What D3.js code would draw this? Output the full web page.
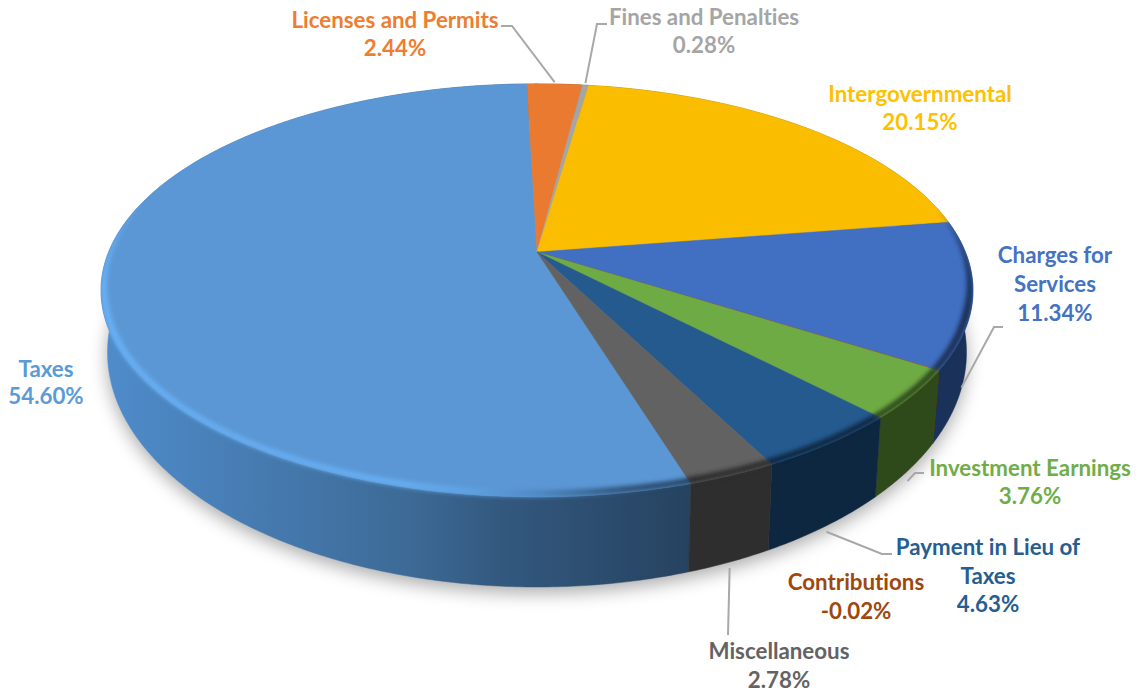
<!DOCTYPE html>
<html><head><meta charset="utf-8">
<script src="https://cdn.jsdelivr.net/npm/d3@7/dist/d3.min.js"></script>
<style>html,body{margin:0;padding:0;background:#fff}svg{display:block}text{font-variant-ligatures:none}</style></head>
<body><div id="c"></div>
<script>
const categories=["Taxes","Licenses and Permits","Fines and Penalties","Intergovernmental","Charges for Services","Contributions","Investment Earnings","Payment in Lieu of Taxes","Miscellaneous"];
const values=[54.60,2.44,0.28,20.15,11.34,-0.02,3.76,4.63,2.78];
const labelText=["54.60%","2.44%","0.28%","20.15%","11.34%","-0.02%","3.76%","4.63%","2.78%"];
const topColors=["#5b97d5","#ea7a30","#a5a5a5","#fbbd00","#4170c2","#9e480e","#6fab45","#255a8f","#626262"];
const sideColors=["#3f6c99","#8a4a1d","#666666","#97750a","#1a3159","#5e2b08","#2f4a1a","#0e2740","#2e2e2e"];
const textColors=["#5b9bd5","#ed7d31","#a5a5a5","#ffc000","#4472c4","#9e480e","#70ad47","#255e91","#636363"];
const labelLines=[["Taxes"],["Licenses and Permits"],["Fines and Penalties"],["Intergovernmental"],["Charges for","Services"],["Contributions"],["Investment Earnings"],["Payment in Lieu of","Taxes"],["Miscellaneous"]];
// annotation layout: label centre x, first baseline y, line step, leader elbow points, rim used, nudge of rim anchor
const labelLayout=[
 {x:46,y:377,step:27},
 {x:395,y:28,step:27.5,elbow:[[501,26],[512,26]],rim:"top",nudge:[0,-2]},
 {x:704,y:25,step:28,elbow:[[607,24],[597,24]],rim:"top",nudge:[0,-2]},
 {x:920,y:101.5,step:28},
 {x:1055,y:263,step:29,elbow:[[1003,327],[994,327]],rim:"bottom",nudge:[-5,31]},
 {x:856,y:590,step:29},
 {x:1030,y:476,step:28,elbow:[[924,473],[915,473]],rim:"bottom",nudge:[0,10]},
 {x:988,y:555,step:28.5,elbow:[[892,554],[882,554]],rim:"bottom",nudge:[0,6]},
 {x:779,y:659,step:29,elbow:[[728,635]],rim:"bottom",nudge:[0,6]}
];
const W=1138,H=693;
const deg=Math.PI/180;
const cx=537,cy=252,k=0.186,A=199.4,B=428.4;
const pie=d3.pie().sort(null).value(d=>Math.abs(d)).startAngle(161.84*deg).endAngle((161.84+360)*deg);
const arcs=pie(values);
// perspective projection of the pie's top face
const warp=a=>a+1.0*deg*(1-Math.cos(a))/2;
const proj=a0=>{const a=warp(a0),u=Math.sin(a),v=-Math.cos(a),w=1-k*v;return [cx+B*u/w,cy+A*v/w];};
const sx=d3.scaleLinear().domain([cx,cx+100]).range([cx,cx+98.5]);
const sy=d3.scaleLinear().domain([cy,cy+100]).range([308.7,422.3]);
const low=a=>{const p=proj(a);return [sx(p[0]),sy(p[1])];};
const samples=(a0,a1)=>{const n=Math.max(2,Math.ceil(Math.abs(a1-a0)/(0.5*deg)));return d3.range(n+1).map(i=>a0+(a1-a0)*i/n);};
const line=d3.line();
const svg=d3.select("#c").append("svg").attr("width",W).attr("height",H).attr("viewBox",[0,0,W,H]);
const defs=svg.append("defs");
defs.append("filter").attr("id","shadow").attr("x","-10%").attr("y","-10%").attr("width","120%").attr("height","120%").append("feGaussianBlur").attr("stdDeviation",9);
defs.append("filter").attr("id","soft").attr("x","-10%").attr("y","-10%").attr("width","120%").attr("height","120%").append("feGaussianBlur").attr("stdDeviation",2);
const sideGrad=defs.append("linearGradient").attr("id","taxSide").attr("gradientUnits","userSpaceOnUse").attr("x1",105).attr("x2",692).attr("y1",0).attr("y2",0);
[[0,"#4f8ccb"],[0.52,"#3d6a96"],[0.67,"#33597f"],[1,"#264260"]].forEach(s=>sideGrad.append("stop").attr("offset",s[0]).attr("stop-color",s[1]));
const rimGrad=defs.append("linearGradient").attr("id","taxRim").attr("gradientUnits","userSpaceOnUse").attr("x1",105).attr("x2",692).attr("y1",0).attr("y2",0);
[[0,"#68b0f4"],[0.5,"#68aef2"],[0.62,"#5fa2e2"],[0.74,"#4f88c2"],[0.88,"#2f5479"],[1,"#274361"]].forEach(s=>rimGrad.append("stop").attr("offset",s[0]).attr("stop-color",s[1]));
const fullAngles=samples(0,2*Math.PI);
const outline=[line(fullAngles.map(proj))+"Z",line(fullAngles.map(low))+"Z"];
const clip=defs.append("clipPath").attr("id","body");
outline.forEach(d=>clip.append("path").attr("d",d));
// shadow
svg.append("path").attr("d",outline[1]).attr("transform","translate(0,6)").attr("fill","#000").attr("opacity",0.33).attr("filter","url(#shadow)");
// sides
svg.append("g").selectAll("path").data(arcs).join("path")
 .attr("d",d=>{const as=samples(d.startAngle,d.endAngle);return line(as.map(proj).concat(as.slice().reverse().map(low)))+"Z";})
 .attr("fill",(d,i)=>i===0?"url(#taxSide)":sideColors[i])
 .attr("stroke",(d,i)=>i===0?"url(#taxSide)":sideColors[i]).attr("stroke-width",0.5);
// top faces
svg.append("g").selectAll("path").data(arcs).join("path")
 .attr("d",d=>line([[cx,cy]].concat(samples(d.startAngle,d.endAngle).map(proj)))+"Z")
 .attr("fill",(d,i)=>topColors[i]).attr("stroke",(d,i)=>topColors[i]).attr("stroke-width",0.4);
// bevel along near rim: a band that tapers toward both ends of the visible rim
const bevelFrom=76*deg,bevelTo=285*deg,taper=30*deg;
const bandWidth=a=>Math.min(1,(a-bevelFrom)/taper,(bevelTo-a)/taper);
const inner=(a,w)=>{const p=proj(a),dx=cx-p[0],dy=290-p[1],r=Math.hypot(dx,dy);return [p[0]+dx/r*w*bandWidth(a),p[1]+dy/r*w*bandWidth(a)];};
const bevel=arcs.map((d,i)=>{
  const a0=d.startAngle%(2*Math.PI),a1=a0+(d.endAngle-d.startAngle);
  return {i,f:Math.max(a0,bevelFrom),t:Math.min(a1,bevelTo)};
}).filter(b=>b.t>b.f);
svg.append("g").attr("clip-path","url(#body)").append("g").attr("filter","url(#soft)").selectAll("path").data(bevel).join("path")
 .attr("d",b=>{const as=samples(b.f,b.t),w=b.i===0?7:8;return line(as.map(proj).concat(as.slice().reverse().map(a=>inner(a,w))))+"Z";})
 .attr("fill",b=>b.i===0?"url(#taxRim)":sideColors[b.i]);
// leaders
const gl=svg.append("g");
arcs.forEach((d,i)=>{
  const L=labelLayout[i];if(!L.elbow)return;
  const mid=(d.startAngle+d.endAngle)/2;
  const p=L.rim==="top"?proj(mid):low(mid);
  const anchor=[p[0]+L.nudge[0],p[1]+L.nudge[1]];
  gl.append("path").attr("d",line(L.elbow.concat([anchor]))).attr("fill","none").attr("stroke","#a8a8a8").attr("stroke-width",2);
});
// labels
const gt=svg.append("g").attr("font-family","Lato,'Open Sans',sans-serif").attr("font-weight",700).attr("font-size",22.3).attr("text-anchor","middle");
categories.forEach((c,i)=>{
  const L=labelLayout[i];
  const t=gt.append("text").attr("fill",textColors[i]);
  labelLines[i].concat([labelText[i]]).forEach((s,j)=>t.append("tspan").attr("x",L.x).attr("y",L.y+j*L.step).text(s));
});
</script></body></html>
